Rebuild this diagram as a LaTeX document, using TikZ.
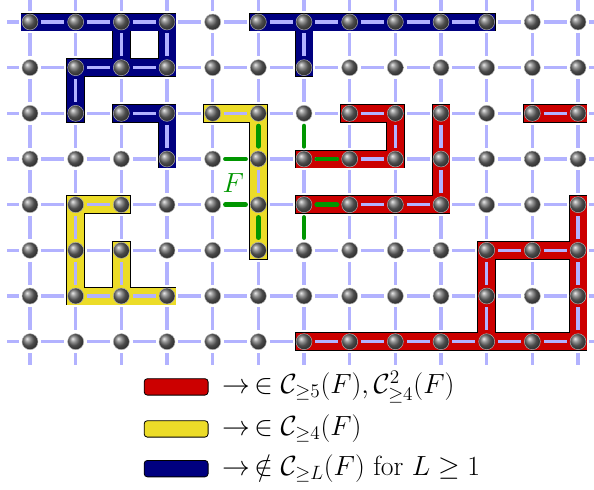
\documentclass[tikz,border=0pt]{standalone}
\usepackage{amsfonts, amssymb, amsmath}
\usetikzlibrary{arrows,positioning,shapes,calc}
\definecolor{bandred}{RGB}{204,0,0}
\definecolor{bandyellow}{RGB}{236,220,40}
\definecolor{bandblue}{RGB}{0,0,128}
\definecolor{fgreen}{RGB}{0,150,0}
\definecolor{gridblue}{RGB}{178,178,255}
\newcommand{\green}[1]{\textcolor{fgreen}{#1}}
\tikzset{
  band/.style={draw=#1, line width=10.6pt, line cap=rect, line join=miter,
    preaction={draw=black, line width=11.8pt, line cap=rect, line join=miter}},
  gridline/.style={draw=gridblue, line width=2pt, dash pattern=on 0.5cm off 0.5cm, dash phase=0.25cm},
  fedge/.style={draw=fgreen, line width=3pt, line cap=round, shorten >=0.28cm, shorten <=0.28cm},
  ball/.style={circle, minimum size=0.35cm, inner sep=0pt, shading=ball, ball color=gray!85!black, draw=gray!60, line width=0.3pt},
  legbox/.style={draw=black, line width=0.5pt, rounded corners=2pt, minimum width=1.4cm, minimum height=0.36cm, inner sep=0pt}
}

\begin{document}
\begin{tikzpicture}[font=\LARGE]
      \useasboundingbox (-0.657,0.482) rectangle (12.35,-10.226);
      %lattice points
      \foreach \i in {0,...,12}
        \foreach \j in {0,...,7}
          \coordinate (p-\i-\j) at (\i,-\j);
      %bands
      \draw[band=bandblue] (p-0-0) -- (p-3-0) -- (p-3-1) -- (p-1-1) -- (p-1-2) (p-2-0) -- (p-2-1);
      \draw[band=bandblue] (p-2-2) -- (p-3-2) -- (p-3-3);
      \draw[band=bandblue] (p-5-0) -- (p-10-0) (p-6-0) -- (p-6-1);
      \draw[band=bandyellow] (p-4-2) -- (p-5-2) -- (p-5-5);
      \draw[band=bandyellow] (p-2-4) -- (p-1-4) -- (p-1-6) -- (p-3-6) (p-2-5) -- (p-2-6);
      \draw[band=bandred] (p-7-2) -- (p-8-2) -- (p-8-3) -- (p-6-3);
      \draw[band=bandred] (p-9-2) -- (p-9-4) -- (p-6-4);
      \draw[band=bandred] (p-11-2) -- (p-12-2);
      \draw[band=bandred] (p-6-7) -- (p-12-7) -- (p-12-4) (p-10-7) -- (p-10-5) -- (p-12-5);
      %grid
      \foreach \j in {0,...,7}
        \draw[gridline] (-0.5,-\j) -- (12.5,-\j);
      \foreach \i in {0,...,12}
        \draw[gridline] (\i,0.5) -- (\i,-7.5);
      %edges of F
      \draw[fedge] (p-5-2) -- (p-5-3);
      \draw[fedge] (p-5-4) -- (p-5-5);
      \draw[fedge] (p-4-3) -- (p-5-3);
      \draw[fedge] (p-4-4) -- (p-5-4);
      \draw[fedge] (p-6-2) -- (p-6-3);
      \draw[fedge] (p-6-4) -- (p-6-5);
      \draw[fedge] (p-6-3) -- (p-7-3);
      \draw[fedge] (p-6-4) -- (p-7-4);
      \node (flabel) at (4.45,-3.53) {\green{$F$}};
      %nodes
      \foreach \i in {0,...,12}
        \foreach \j in {0,...,7}
          \node[ball] (b-\i-\j) at (p-\i-\j) {};
      %legend
      \node[legbox, fill=bandred] (leg-red) at (3.2,-7.99) {};
      \node[legbox, fill=bandyellow] (leg-yellow) at (3.2,-8.91) {};
      \node[legbox, fill=bandblue] (leg-blue) at (3.2,-9.78) {};
      \node[anchor=base west, inner sep=0pt] (txt-red) at (4.2,-8.14) {$\rightarrow\,\in \mathcal{C}_{\geq 5}(F), \mathcal{C}^2_{\geq 4}(F)$};
      \node[anchor=base west, inner sep=0pt] (txt-yellow) at (4.2,-9.06) {$\rightarrow\,\in \mathcal{C}_{\geq 4}(F)$};
      \node[anchor=base west, inner sep=0pt] (txt-blue) at (4.2,-9.93) {$\rightarrow\,\notin \mathcal{C}_{\geq L}(F)$ for $L \geq 1$};
    \end{tikzpicture}
\end{document}
